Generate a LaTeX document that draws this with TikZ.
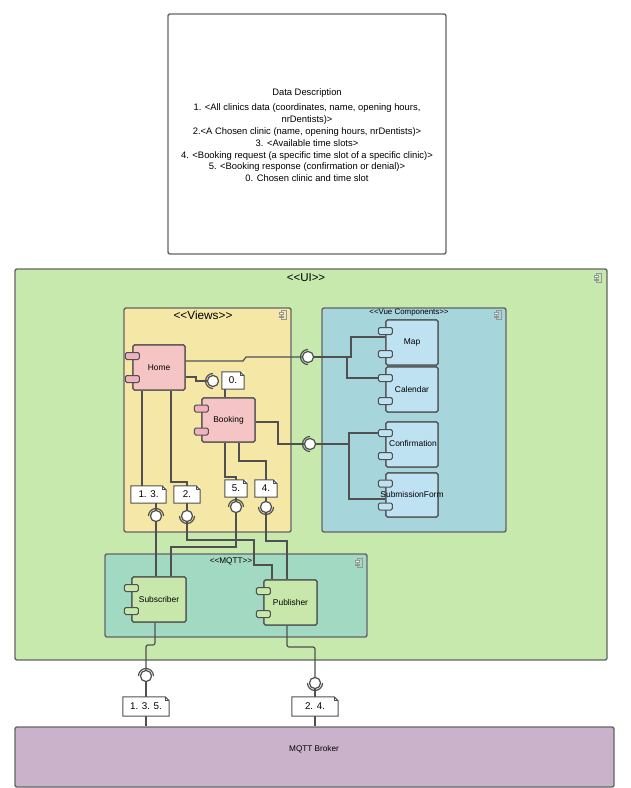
\documentclass[tikz,border=0pt]{standalone}
\usepackage{fontspec}
\setmainfont{Liberation Sans}
\usetikzlibrary{calc}
\definecolor{uigreen}{RGB}{199,233,174}
\definecolor{viewsy}{RGB}{245,232,166}
\definecolor{vueb}{RGB}{166,214,220}
\definecolor{compb}{RGB}{190,226,242}
\definecolor{pinkc}{RGB}{245,196,196}
\definecolor{pinkp}{RGB}{240,178,190}
\definecolor{mqttc}{RGB}{162,217,195}
\definecolor{pubg}{RGB}{199,231,171}
\definecolor{brokc}{RGB}{202,178,203}
\definecolor{linec}{RGB}{80,80,80}
\definecolor{bordc}{RGB}{100,100,100}
\definecolor{iconc}{RGB}{150,150,150}
\newcommand\dlt{<\kern0pt<}
\newcommand\dgt{>\kern0pt>}
\tikzset{
  ln/.style={draw=linec, line width=1.2pt},
  container/.style={draw=bordc, line width=1.4pt, rounded corners=2pt, inner sep=0pt},
  comp/.style={draw=linec, line width=1.2pt, rounded corners=1.5pt, inner sep=0pt, font=\fontsize{8.4}{10}\selectfont},
  port/.style={draw=linec, line width=1pt, rounded corners=1.5pt, minimum width=14pt, minimum height=7pt, inner sep=0pt},
  ball/.style={circle, draw=linec, line width=1.1pt, fill=white, minimum size=11pt, inner sep=0pt},
  notestyle/.style={fill=white, inner sep=0pt, minimum height=17pt, font=\fontsize{9.8}{11}\selectfont},
  noteln/.style={draw=linec, line width=1pt},
  cicon/.pic={
    \draw[iconc, line width=0.8pt] (-2,-4.5) rectangle (3,4.5);
    \draw[iconc, line width=0.8pt, fill=white] (-4,-2.8) rectangle (0,-1);
    \draw[iconc, line width=0.8pt, fill=white] (-4,1) rectangle (0,2.8);
  }
}
\newcommand\notebox[6]{%
  \node[notestyle, minimum width=#4, minimum height=#5] (#1) at (#2,#3) {#6};
  \draw[noteln] (#1.north west) -- ($(#1.north east)+(-4,0)$) -- ($(#1.north east)+(0,4)$) -- (#1.south east) -- (#1.south west) -- cycle;
  \draw[noteln] ($(#1.north east)+(-4,0)$) -- ++(0,4) -- ++(4,0);
}
\newcommand\ports[2]{%
  \node[port, fill=#2] (#1p1) at ($(#1.west)+(0,-11.5)$) {};
  \node[port, fill=#2] (#1p2) at ($(#1.west)+(0,11.5)$) {};
}
\newcommand\sockleft[1]{\draw[ln] (#1) ++(90:7.5) arc[start angle=90, end angle=270, radius=7.5];}
\newcommand\sockabove[1]{\draw[ln] (#1) ++(180:7.5) arc[start angle=180, end angle=360, radius=7.5];}
\newcommand\sockbelow[1]{\draw[ln] (#1) ++(0:7.5) arc[start angle=0, end angle=180, radius=7.5];}
\begin{document}
\begin{tikzpicture}[x=1pt, y=-1pt]
\useasboundingbox (0,0) rectangle (630,788);
\fill[white] (0,0) rectangle (630,788);

% Data description
\node[container, fill=white, minimum width=278pt, minimum height=240pt] (Data) at (307,134) {};
\node[align=center, font=\fontsize{9.4}{11.8}\selectfont, inner sep=0pt] (DataText) at (307,135) {Data Description\\[4pt]
1. <All clinics data (coordinates, name, opening hours,\\
nrDentists)>\\
2.<A Chosen clinic (name, opening hours, nrDentists)>\\
3. <Available time slots>\\
4. <Booking request (a specific time slot of a specific clinic)>\\
5. <Booking response (confirmation or denial)>\\
0. Chosen clinic and time slot};

% containers
\node[container, fill=uigreen, minimum width=592pt, minimum height=391pt] (UI) at (311,464.5) {};
\node[font=\fontsize{11.5}{13}\selectfont, inner sep=0pt] (UItitle) at (306,278) {\dlt UI\dgt};
\pic at (598,278) {cicon};

\node[container, fill=viewsy, minimum width=167pt, minimum height=224pt] (Views) at (207.5,420) {};
\node[font=\fontsize{11.8}{13}\selectfont, inner sep=0pt] (Viewstitle) at (203,315) {\dlt Views\dgt};
\pic at (283,315) {cicon};

\node[container, fill=vueb, minimum width=184pt, minimum height=224pt] (Vue) at (414,420) {};
\node[font=\fontsize{7.9}{9}\selectfont, inner sep=0pt] (Vuetitle) at (409,313) {\dlt Vue Components\dgt};
\pic at (498,315) {cicon};

\node[container, fill=mqttc, minimum width=262pt, minimum height=83pt] (MQTT) at (236,595.5) {};
\node[font=\fontsize{8.2}{9}\selectfont, inner sep=0pt] (MQTTtitle) at (231,561) {\dlt MQTT\dgt};
\pic at (359,563) {cicon};

\node[container, fill=brokc, minimum width=599pt, minimum height=60pt] (Broker) at (314.5,757) {};
\node[font=\fontsize{8.2}{10}\selectfont, inner sep=0pt] (Brokertext) at (314,749) {MQTT Broker};

% balls (positions)
\node[ball] (b0) at (213,381) {};
\node[ball] (bHM) at (308,357) {};
\node[ball] (bBC) at (310,444) {};
\node[ball] (b13) at (156,516) {};
\node[ball] (b2) at (187,516) {};
\node[ball] (b5) at (236,507) {};
\node[ball] (b4) at (266,507) {};
\node[ball] (b135) at (146,676) {};
\node[ball] (b24) at (315,683) {};

% components (for anchors)
\node[comp, fill=pinkc, minimum width=52pt, minimum height=45pt] (Home) at (159,367.5) {};
\node[comp, fill=pinkc, minimum width=53pt, minimum height=44pt] (Booking) at (228.5,420) {};
\node[comp, fill=compb, minimum width=52pt, minimum height=45pt] (Map) at (412,342.5) {};
\node[comp, fill=compb, minimum width=52pt, minimum height=45pt] (Calendar) at (412,389.5) {};
\node[comp, fill=compb, minimum width=52pt, minimum height=45pt] (Confirmation) at (412,444.5) {};
\node[comp, fill=compb, minimum width=52pt, minimum height=44pt] (SubmissionForm) at (412,495) {};
\node[comp, fill=pubg, minimum width=54pt, minimum height=45pt] (Subscriber) at (159,599.5) {};
\node[comp, fill=pubg, minimum width=53pt, minimum height=45pt] (Publisher) at (290.5,602.5) {};

% connectors
\draw[ln] (Home.east |- 0,361) -- (243,361) -- (246,357) -- (bHM.west);
\draw[ln] (bHM.east) -- (351,357) -- (351,337) -- (Map.west |- 0,337);
\draw[ln] (347,357) -- (347,378) -- (Calendar.west |- 0,378);
\draw[ln] (Booking.east |- 0,422) -- (278,422) -- (278,444) -- (bBC.west);
\draw[ln] (bBC.east) -- (349,444);
\draw[ln] (Confirmation.west |- 0,433) -- (349,433) -- (349,499) -- (SubmissionForm.west |- 0,499);
\draw[ln] (Home.east |- 0,377) -- (196,377) -- (196,381) -- (b0.west);
\draw[ln] (Home.south -| 142,0) -- (142,486);
\draw[ln] (Home.south -| 171,0) -- (171,482) -- (187,482) -- (187,486);
\draw[ln] (Booking.south -| 225,0) -- (225,477) -- (236,477) -- (236,480);
\draw[ln] (Booking.south -| 239,0) -- (239,461) -- (266,461) -- (266,480);
\draw[ln] (225,389) -- (Booking.north -| 225,0);
\draw[ln] (156,503) -- (b13);
\draw[ln] (187,503) -- (b2);
\draw[ln] (236,497) -- (b5);
\draw[ln] (266,497) -- (b4);
\draw[ln] (b13) -- (Subscriber.north -| b13);
\draw[ln] (b2) -- (b2 |- 0,540) -- (254,540) -- (254,565) -- (272,565) -- (Publisher.north -| 272,0);
\draw[ln] (b5) -- (b5 |- 0,547) -- (171,547) -- (Subscriber.north -| 171,0);
\draw[ln] (b4) -- (b4 |- 0,541) -- (287,541) -- (Publisher.north -| 287,0);
\draw[ln, rounded corners=2pt] (Subscriber.south -| 155,0) -- (155,645) -- (146,645) -- (b135);
\draw[ln] (b135) -- (146,697);
\draw[ln] (146,716) -- (Broker.north -| 146,0);
\draw[ln, rounded corners=2pt] (Publisher.south -| 287,0) -- (287,647) -- (315,647) -- (b24);
\draw[ln] (b24) -- (315,697);
\draw[ln] (315,716) -- (Broker.north -| 315,0);

% components over lines
\node[comp, fill=pinkc, minimum width=52pt, minimum height=45pt] (HomeB) at (Home) {Home};
\node[comp, fill=pinkc, minimum width=53pt, minimum height=44pt] (BookingB) at (Booking) {Booking};
\node[comp, fill=compb, minimum width=52pt, minimum height=45pt] (MapB) at (Map) {Map};
\node[comp, fill=compb, minimum width=52pt, minimum height=45pt] (CalendarB) at (Calendar) {Calendar};
\node[comp, fill=compb, minimum width=52pt, minimum height=45pt] (ConfirmationB) at (Confirmation) {};
\node[comp, fill=compb, minimum width=52pt, minimum height=44pt] (SubmissionFormB) at (SubmissionForm) {};
\node[comp, fill=pubg, minimum width=54pt, minimum height=45pt] (SubscriberB) at (Subscriber) {Subscriber};
\node[comp, fill=pubg, minimum width=53pt, minimum height=45pt] (PublisherB) at (Publisher) {Publisher};

\ports{Home}{pinkp}
\ports{Booking}{pinkp}
\ports{Map}{compb}
\ports{Calendar}{compb}
\ports{Confirmation}{compb}
\ports{SubmissionForm}{compb}
\ports{Subscriber}{pubg}
\ports{Publisher}{pubg}

\node[font=\fontsize{8.4}{10}\selectfont, inner sep=0pt] (Conflabel) at (413,443) {Confirmation};
\node[font=\fontsize{8.4}{10}\selectfont, inner sep=0pt] (Sublabel) at (412,494) {SubmissionForm};

% balls on top with sockets
\node[ball] (b0x) at (b0) {};
\node[ball] (bHMx) at (bHM) {};
\node[ball] (bBCx) at (bBC) {};
\node[ball] (b13x) at (b13) {};
\node[ball] (b2x) at (b2) {};
\node[ball] (b5x) at (b5) {};
\node[ball] (b4x) at (b4) {};
\node[ball] (b135x) at (b135) {};
\node[ball] (b24x) at (b24) {};
\sockleft{b0}
\sockleft{bHM}
\sockleft{bBC}
\sockabove{b13}
\sockbelow{b2}
\sockabove{b5}
\sockbelow{b4}
\sockabove{b135}
\sockbelow{b24}

% notes
\notebox{n0}{233}{380.5}{22pt}{17pt}{0.}
\notebox{n13}{148.5}{494.5}{35pt}{17pt}{1. 3.}
\notebox{n2}{187}{494.5}{26pt}{17pt}{2.}
\notebox{n5}{236}{488.5}{22pt}{17pt}{5.}
\notebox{n4}{266}{488.5}{22pt}{17pt}{4.}
\notebox{n135}{146}{706.5}{46pt}{19pt}{1. 3. 5.}
\notebox{n24}{315}{706.5}{46pt}{19pt}{2. 4.}
\end{tikzpicture}
\end{document}
